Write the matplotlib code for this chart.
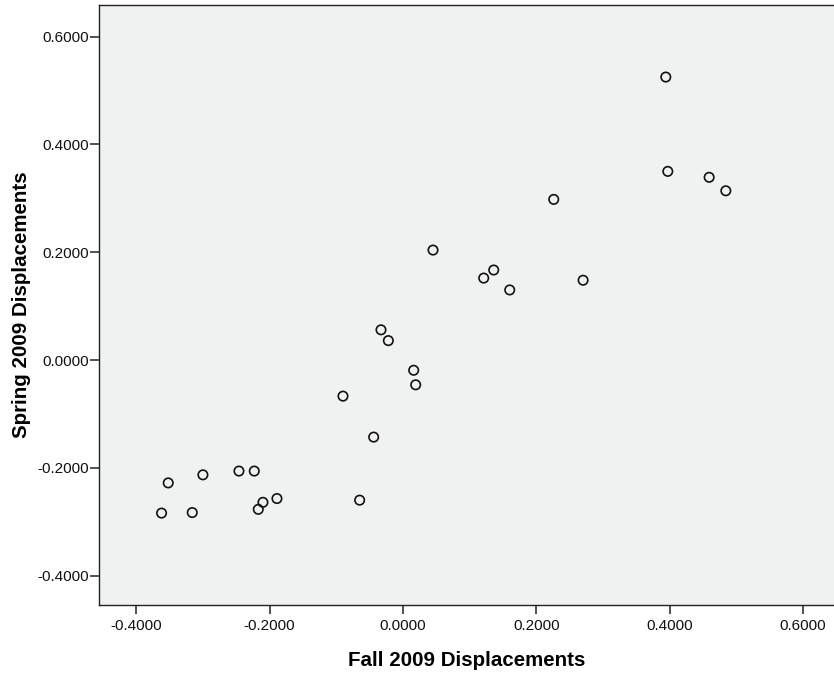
import matplotlib.pyplot as plt

plt.rcParams['font.family'] = ['Liberation Sans', 'DejaVu Sans']

# Displacement values
fall_2009 = [0.394, 0.397, 0.459, 0.484, 0.226, 0.045, 0.121, 0.136, 0.160, 0.270,
             -0.033, -0.022, 0.016, 0.019, -0.090, -0.044, -0.065,
             -0.352, -0.300, -0.246, -0.223, -0.362, -0.316, -0.210, -0.217, -0.189]
spring_2009 = [0.525, 0.350, 0.339, 0.314, 0.298, 0.204, 0.152, 0.167, 0.130, 0.148,
               0.056, 0.036, -0.019, -0.046, -0.067, -0.143, -0.260,
               -0.228, -0.213, -0.206, -0.206, -0.284, -0.283, -0.264, -0.277, -0.257]

ticks = [-0.4, -0.2, 0.0, 0.2, 0.4, 0.6]
tick_labels = ['%.4f' % t for t in ticks]

fig = plt.figure(figsize=(8.34, 6.74), dpi=100)
ax = fig.add_axes([99 / 834, 69 / 674, 735 / 834, 599.7 / 674])
ax.set_facecolor('#F0F1F1')

ax.scatter(fall_2009, spring_2009, s=46, facecolors='none', edgecolors='#111111',
           linewidths=1.2, zorder=3)

ax.set_xlim(-0.4558, 0.6462)
ax.set_ylim(-0.4545, 0.6581)
ax.set_xticks(ticks)
ax.set_xticklabels(tick_labels)
ax.set_yticks(ticks)
ax.set_yticklabels(tick_labels)

for side in ['left', 'bottom', 'top']:
    ax.spines[side].set_color('#222222')
    ax.spines[side].set_linewidth(1.0)
ax.spines['right'].set_visible(False)

ax.tick_params(axis='both', direction='out', length=6.5, width=1.1, color='#222222',
               labelsize=11, labelcolor='#111111')
ax.tick_params(axis='x', pad=3.5)
ax.tick_params(axis='y', pad=0.5)

ax.set_xlabel('Fall 2009 Displacements', fontsize=14.8, fontweight='bold', labelpad=13)
ax.set_ylabel('Spring 2009 Displacements', fontsize=14.8, fontweight='bold', labelpad=5)

fig.savefig('out.png', dpi=100)
